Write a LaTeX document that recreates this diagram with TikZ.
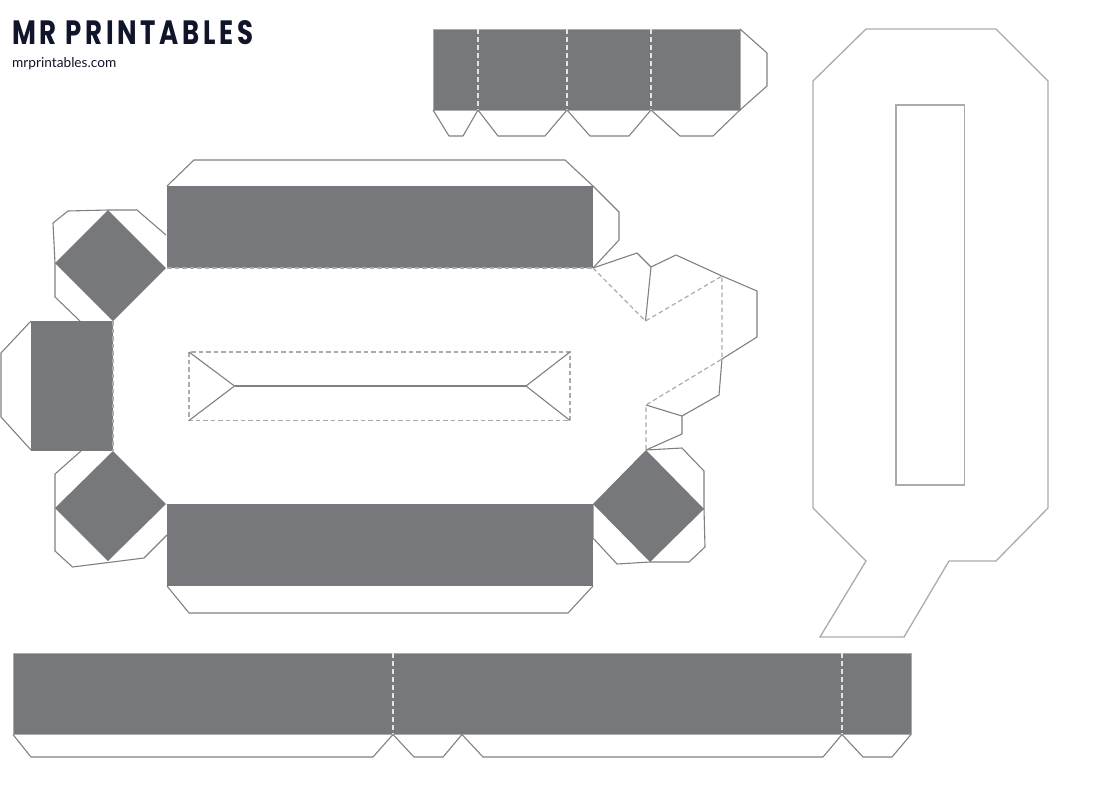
\documentclass[tikz,border=0pt]{standalone}
\usepackage{fontspec}
\newfontfamily\logofont[LetterSpace=14]{Poppins}
\newfontfamily\urlfont{Lato}
\definecolor{panelgray}{HTML}{77787B}
\definecolor{tabgray}{HTML}{808080}
\definecolor{foldgray}{HTML}{ABABAB}
\definecolor{logonavy}{HTML}{10152A}
\tikzset{
  panel/.style={fill=panelgray,draw=foldgray,line width=1pt},
  tabline/.style={draw=tabgray,line width=1.1pt,line join=round},
  foldline/.style={draw=foldgray,line width=1.2pt,dash pattern=on 4.5pt off 3pt},
  foldlight/.style={draw=white!80!panelgray,line width=1.2pt,dash pattern=on 5pt off 3pt},
  letterline/.style={draw=foldgray,line width=1.3pt}
}
\begin{document}
\begin{tikzpicture}[x=1pt,y=-1pt]
  \useasboundingbox (0,0) rectangle (1096,793);
  % logo
  \node[anchor=north west,inner sep=0pt,text=logonavy] (logo) at (12,20)
    {\resizebox{241pt}{24pt}{\logofont\bfseries MR PRINTABLES}};
  \node[anchor=base west,inner sep=0pt,text=logonavy] (url) at (12,67.5)
    {\resizebox{104pt}{!}{\urlfont mrprintables.com}};
  % top strip
  \draw[panel] (433,29) rectangle (740,110);
  \foreach \x in {478,567,651}
    \draw[foldlight] (\x,29) -- (\x,110);
  \draw[tabline] (740,29) -- (767,53) -- (767,86) -- (740,110);
  \draw[tabline] (433,110) -- (449,136) -- (463,136) -- (478,110)
    -- (498,136) -- (545,136) -- (567,110)
    -- (590,136) -- (629,136) -- (651,110)
    -- (680,136) -- (713,136) -- (740,110);
  % bottom strip
  \draw[panel] (13,653) rectangle (911,734.5);
  \foreach \x in {393,842}
    \draw[foldlight] (\x,653) -- (\x,734.5);
  \draw[tabline] (13,734.5) -- (31,757) -- (373,757) -- (393,734.5)
    -- (414,757) -- (443,757) -- (462,734.5)
    -- (483,757) -- (823,757) -- (842,734.5)
    -- (863,757) -- (892,757) -- (911,734.5);
  % letter side
  \draw[letterline] (866,29) -- (996,29) -- (1048,81) -- (1048,508) -- (996,561)
    -- (949,561) -- (904,637) -- (820,637) -- (866,561) -- (813,508)
    -- (813,81) -- cycle;
  \draw[letterline] (896,105) rectangle (964.5,485);
  % main tabs
  \draw[tabline] (167,186) -- (194,160) -- (565,160) -- (593,186)
    -- (619,212) -- (619,240) -- (593,268);
  \draw[tabline] (167,586) -- (189,613) -- (568,613) -- (593,586);
  \draw[tabline] (593,268) -- (637,253) -- (651,267) -- (676,255) -- (722,276)
    -- (757,291) -- (757,337) -- (722,359) -- (719,395) -- (682,416) -- (646,405);
  \draw[tabline] (682,416) -- (682,434) -- (646,450);
  \draw[tabline] (651,267) -- (645.5,321);
  % corner tabs
  \draw[tabline] (55,263) -- (53,223) -- (68,211) -- (108,210) -- (137,210) -- (166,235);
  \draw[tabline] (55,263) -- (55,297) -- (80,321);
  \draw[tabline] (31,321) -- (1,353) -- (1,417) -- (31,450);
  \draw[tabline] (81,451) -- (55,474) -- (55,508) -- (55,551) -- (72.5,567) -- (144,558) -- (167,535);
  \draw[tabline] (646,450) -- (682,448) -- (704,471) -- (704,509) -- (705,547)
    -- (689,562) -- (650,562) -- (617,564) -- (593,538) -- (593,504);
  % grey panels
  \fill[panelgray] (167,186) rectangle (593,268);
  \fill[panelgray] (167,504) rectangle (593,586);
  \fill[panelgray] (31,321) rectangle (113,451);
  \fill[panelgray] (108,210) -- (166,268) -- (113,321) -- (55,263) -- cycle;
  \fill[panelgray] (113,451) -- (166,504) -- (108,561) -- (55,508) -- cycle;
  \fill[panelgray] (646,450) -- (704,509) -- (650,562) -- (593,504) -- cycle;
  % folds
  \draw[foldline] (167,268) -- (593,268);
  \draw[foldline] (113,321) -- (113,451);
  \draw[foldline] (593,268) -- (645.5,321) -- (722,276) -- (722,359) -- (646,405) -- (646,450);
  % slot
  \draw[foldline] (189,352) rectangle (570,420.5);
  \draw[tabline] (189,352) -- (234.5,386) -- (189,420.5);
  \draw[tabline] (570,352) -- (526,386) -- (570,420.5);
  \draw[tabline] (234.5,386) -- (526,386);
\end{tikzpicture}
\end{document}
